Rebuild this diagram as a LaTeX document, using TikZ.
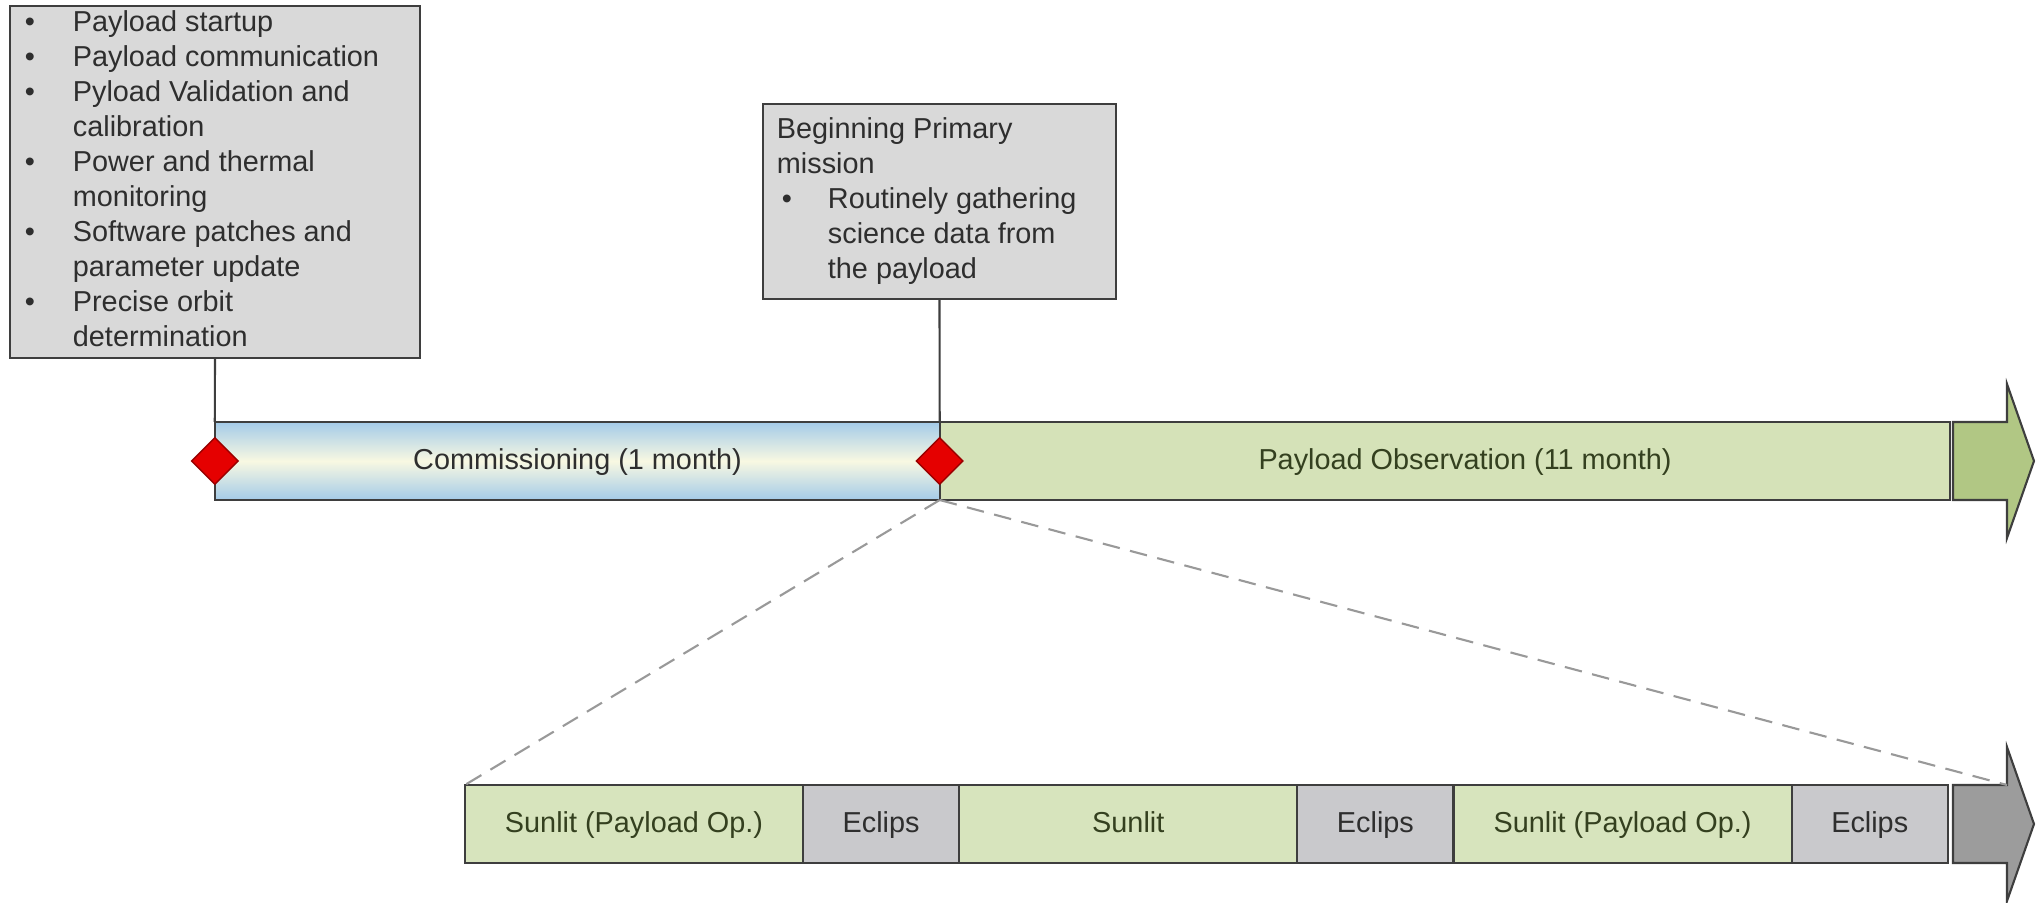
\documentclass[tikz,border=0pt]{standalone}
\usepackage{fontspec}
\setmainfont{Liberation Sans}
\usepackage{xcolor}
\usepackage{tikz}
\usetikzlibrary{positioning,shapes.geometric}

\definecolor{notegray}{HTML}{D9D9D9}
\definecolor{edgegray}{HTML}{3E3E3E}
\definecolor{barblue}{HTML}{A4CBE8}
\definecolor{barcream}{HTML}{F8F8E2}
\definecolor{obsgreen}{HTML}{D5E2B8}
\definecolor{headgreen}{HTML}{B1C784}
\definecolor{sungreen}{HTML}{D7E4BD}
\definecolor{eclgray}{HTML}{C9C9CC}
\definecolor{headgray}{HTML}{9C9C9C}
\definecolor{olivetext}{HTML}{34401F}
\definecolor{darktext}{HTML}{2E2E2E}

\begin{document}
\begin{tikzpicture}[
    x=0.01cm, y=-0.01cm,
    font=\fontsize{8.2}{9.96}\selectfont,
    note/.style={draw=edgegray, line width=0.6pt, fill=notegray, inner sep=0pt, outer sep=0pt, text=darktext},
    bar/.style={draw=edgegray, line width=0.6pt, minimum height=0.78cm, inner sep=0pt, outer sep=0pt, text height=0.72em, text depth=0.21em},
    sunlit/.style={bar, fill=sungreen, text=olivetext, minimum width=3.38cm},
    eclips/.style={bar, fill=eclgray, text=darktext, minimum width=1.56cm},
    milestone/.style={diamond, draw=red!60!black, fill=red!90!black, inner sep=0pt, minimum width=0.47cm, minimum height=0.47cm},
    link/.style={draw=edgegray, line width=0.6pt},
    zoomline/.style={draw=black!40, line width=0.6pt, dash pattern=on 5pt off 3pt},
    head/.style={draw=edgegray, line width=0.6pt, line join=miter}
]
\useasboundingbox (0,0) rectangle (2041,903);

% notes above the timeline
\node[note, minimum width=4.1cm, minimum height=3.52cm] (startbox) at (215,182) {%
  \begin{tabular}{@{\hspace{0.15cm}}p{0.48cm}@{}p{3.47cm}@{}}
  \textbullet & Payload startup\\
  \textbullet & Payload communication\\
  \textbullet & Pyload Validation and\newline calibration\\
  \textbullet & Power and thermal\newline monitoring\\
  \textbullet & Software patches and\newline parameter update\\
  \textbullet & Precise orbit\newline determination
  \end{tabular}};
\node[note, minimum width=3.53cm, minimum height=1.95cm] (primbox) at (939.5,201.5) {%
  \begin{tabular}{@{\hspace{0.19cm}}p{0.46cm}@{}p{2.88cm}@{}}
  \multicolumn{2}{@{\hspace{0.14cm}}l@{}}{Beginning Primary}\\
  \multicolumn{2}{@{\hspace{0.14cm}}l@{}}{mission}\\
  \textbullet & Routinely gathering\newline science data from\newline the payload
  \end{tabular}};

% mission timeline
\node[bar, minimum width=7.25cm, top color=barblue, bottom color=barblue, middle color=barcream, text=darktext] (commbar) at (577.5,461) {Commissioning (1 month)};
\node[bar, minimum width=10.1cm, fill=obsgreen, text=olivetext] (obsbar) at (1445,461) {\hspace{0.4cm}Payload Observation (11 month)};
\draw[head, fill=headgreen] (1953,422) -- (2007,422) -- (2007,384) -- (2034,461) -- (2007,538) -- (2007,500) -- (1953,500) -- cycle;

% one orbit
\node[sunlit] (sun1) at (634,824) {Sunlit (Payload Op.)};
\node[eclips, right=0pt of sun1] (ecl1) {Eclips};
\node[sunlit, right=0pt of ecl1] (sun2) {Sunlit};
\node[eclips, right=0pt of sun2] (ecl2) {Eclips};
\node[sunlit, right=0pt of ecl2] (sun3) {Sunlit (Payload Op.)};
\node[eclips, right=0pt of sun3] (ecl3) {Eclips};
\draw[head, fill=headgray] (1953,785) -- (2007,785) -- (2007,747) -- (2034,824) -- (2007,901) -- (2007,863) -- (1953,863) -- cycle;
\coordinate (orbitend) at (2007,785);

\draw[zoomline] (obsbar.south west) -- (sun1.north west);
\draw[zoomline] (obsbar.south west) -- (orbitend);

\draw[link] (startbox.south) -- (commbar.north west);
\draw[link] (primbox.south) -- (obsbar.north west);
\node[milestone] (ms1) at (commbar.west) {};
\node[milestone] (ms2) at (obsbar.west) {};
\end{tikzpicture}
\end{document}
